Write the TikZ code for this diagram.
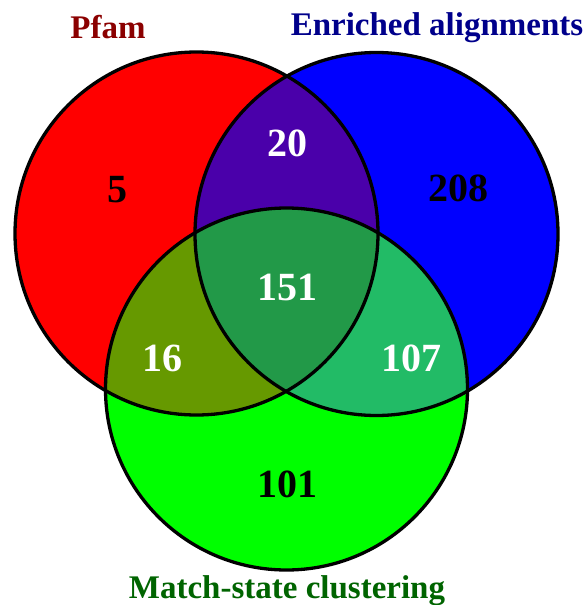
\documentclass[tikz,border=0pt]{standalone}
\usepackage{fontspec}
\setmainfont{Liberation Serif}
\definecolor{cRB}{RGB}{74,0,170}
\definecolor{cRG}{RGB}{102,153,0}
\definecolor{cBG}{RGB}{34,187,102}
\definecolor{cRBG}{RGB}{34,153,72}
\definecolor{tPfam}{RGB}{139,0,0}
\definecolor{tEnr}{RGB}{0,0,139}
\definecolor{tMatch}{RGB}{0,100,0}
\tikzset{
  num/.style={font=\bfseries\fontsize{40}{40}\selectfont, inner sep=0pt},
  ttl/.style={font=\bfseries\fontsize{33}{33}\selectfont, inner sep=0pt, anchor=base},
  outline/.style={draw=black, line width=3.3pt}
}
\begin{document}
\begin{tikzpicture}[x=1pt,y=-1pt]
\useasboundingbox (0,0) rectangle (588,605);
\def\R{181.5}
\def\G{181}
\coordinate (r) at (196.5,233.5);
\coordinate (b) at (376.5,234);
\coordinate (g) at (286.5,389);
\fill[red] (r) circle[radius=\R];
\fill[blue] (b) circle[radius=\R];
\fill[green] (g) circle[radius=\G];
\begin{scope}
  \clip (r) circle[radius=\R];
  \fill[cRB] (b) circle[radius=\R];
  \fill[cRG] (g) circle[radius=\G];
\end{scope}
\begin{scope}
  \clip (b) circle[radius=\R];
  \fill[cBG] (g) circle[radius=\G];
  \clip (r) circle[radius=\R];
  \fill[cRBG] (g) circle[radius=\G];
\end{scope}
\draw[outline] (r) circle[radius=\R];
\draw[outline] (b) circle[radius=\R];
\draw[outline] (g) circle[radius=\G];
\node[num] (n5) at (117,190) {5};
\node[num, white] (n20) at (287,143) {20};
\node[num] (n208) at (458,188) {208};
\node[num, white] (n151) at (287,287) {151};
\node[num, white] (n16) at (162,358) {16};
\node[num, white] (n107) at (411,358) {107};
\node[num] (n101) at (287,484) {101};
\node[ttl, tPfam] (lp) at (108,38) {Pfam};
\node[ttl, tEnr] (le) at (437,35) {Enriched alignments};
\node[ttl, tMatch] (lm) at (287,598) {Match-state clustering};
\end{tikzpicture}
\end{document}
